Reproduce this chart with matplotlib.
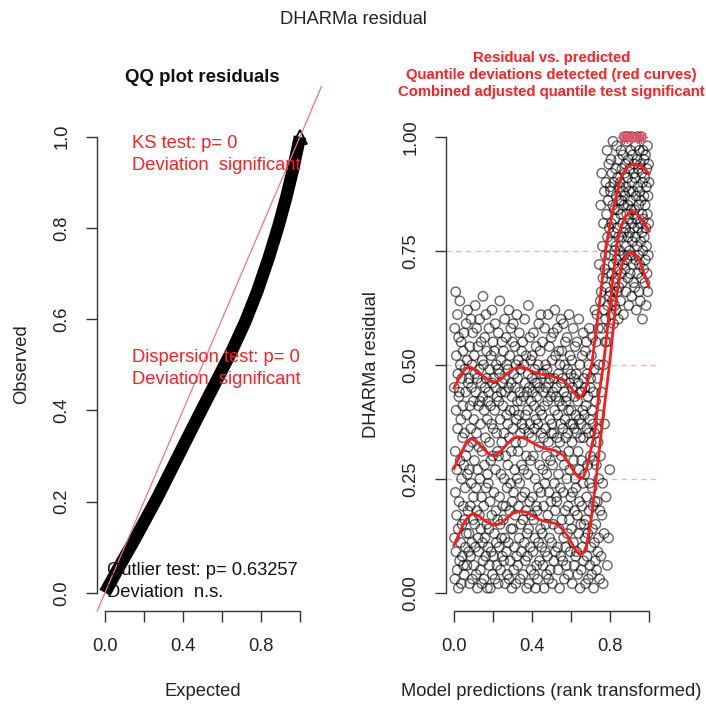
import numpy as np
import matplotlib
matplotlib.use("Agg")
import matplotlib.pyplot as plt

plt.rcParams['font.family'] = ['Liberation Sans', 'DejaVu Sans']

# scaled residuals, ordered by rank of model prediction
resid = [
    0.45, 0.12, 0.58, 0.03, 0.31, 0.22, 0.66, 0.09, 0.40, 0.52, 0.17, 0.27, 0.05, 0.61, 0.36, 0.48, 0.14, 0.01, 0.56, 0.43,
    0.20, 0.44, 0.07, 0.64, 0.29, 0.50, 0.11, 0.38, 0.55, 0.02, 0.25, 0.47, 0.15, 0.08, 0.34, 0.41, 0.53, 0.19, 0.06, 0.28,
    0.57, 0.04, 0.35, 0.16, 0.49, 0.23, 0.10, 0.44, 0.30, 0.59, 0.13, 0.39, 0.06, 0.51, 0.26, 0.62, 0.18, 0.46, 0.32, 0.09,
    0.13, 0.47, 0.27, 0.02, 0.54, 0.41, 0.19, 0.08, 0.36, 0.60, 0.24, 0.45, 0.11, 0.50, 0.03, 0.33, 0.57, 0.16, 0.42, 0.21,
    0.38, 0.06, 0.52, 0.29, 0.15, 0.48, 0.63, 0.10, 0.44, 0.23, 0.04, 0.35, 0.58, 0.18, 0.47, 0.01, 0.27, 0.54, 0.12, 0.41,
    0.09, 0.32, 0.49, 0.17, 0.60, 0.25, 0.42, 0.05, 0.37, 0.14, 0.55, 0.46, 0.21, 0.02, 0.31, 0.51, 0.11, 0.43, 0.65, 0.07,
    0.50, 0.19, 0.03, 0.40, 0.28, 0.56, 0.12, 0.45, 0.34, 0.08, 0.61, 0.23, 0.47, 0.15, 0.53, 0.38, 0.01, 0.26, 0.42, 0.10,
    0.24, 0.44, 0.14, 0.58, 0.06, 0.33, 0.49, 0.20, 0.01, 0.41, 0.29, 0.52, 0.09, 0.37, 0.17, 0.62, 0.46, 0.04, 0.30, 0.55,
    0.36, 0.08, 0.47, 0.22, 0.53, 0.13, 0.40, 0.03, 0.59, 0.27, 0.45, 0.18, 0.50, 0.11, 0.35, 0.06, 0.43, 0.31, 0.16, 0.49,
    0.02, 0.57, 0.30, 0.42, 0.10, 0.48, 0.21, 0.64, 0.15, 0.38, 0.05, 0.51, 0.26, 0.44, 0.12, 0.33, 0.55, 0.08, 0.46, 0.19,
    0.41, 0.16, 0.53, 0.07, 0.35, 0.25, 0.47, 0.60, 0.12, 0.02, 0.44, 0.30, 0.19, 0.56, 0.09, 0.39, 0.50, 0.23, 0.04, 0.37,
    0.28, 0.49, 0.11, 0.45, 0.62, 0.03, 0.34, 0.18, 0.52, 0.40, 0.07, 0.24, 0.58, 0.14, 0.46, 0.31, 0.01, 0.43, 0.20, 0.55,
    0.14, 0.36, 0.59, 0.22, 0.05, 0.48, 0.40, 0.10, 0.27, 0.54, 0.17, 0.45, 0.33, 0.02, 0.50, 0.38, 0.08, 0.61, 0.25, 0.42,
    0.47, 0.06, 0.31, 0.51, 0.19, 0.39, 0.12, 0.57, 0.44, 0.24, 0.03, 0.35, 0.49, 0.15, 0.42, 0.09, 0.28, 0.53, 0.37, 0.21,
    0.33, 0.55, 0.16, 0.04, 0.43, 0.27, 0.50, 0.36, 0.11, 0.60, 0.22, 0.46, 0.07, 0.39, 0.18, 0.52, 0.30, 0.01, 0.44, 0.13,
    0.08, 0.40, 0.26, 0.48, 0.63, 0.14, 0.35, 0.02, 0.45, 0.20, 0.56, 0.37, 0.10, 0.29, 0.51, 0.05, 0.42, 0.17, 0.34, 0.47,
    0.52, 0.21, 0.44, 0.09, 0.30, 0.57, 0.16, 0.41, 0.04, 0.36, 0.49, 0.12, 0.25, 0.46, 0.01, 0.38, 0.54, 0.19, 0.06, 0.43,
    0.18, 0.46, 0.03, 0.37, 0.50, 0.23, 0.11, 0.59, 0.32, 0.45, 0.07, 0.28, 0.53, 0.40, 0.14, 0.61, 0.22, 0.35, 0.48, 0.10,
    0.39, 0.13, 0.55, 0.27, 0.06, 0.44, 0.34, 0.19, 0.48, 0.01, 0.41, 0.58, 0.24, 0.09, 0.36, 0.50, 0.15, 0.45, 0.30, 0.04,
    0.26, 0.49, 0.08, 0.42, 0.17, 0.61, 0.33, 0.03, 0.46, 0.22, 0.54, 0.12, 0.38, 0.47, 0.05, 0.29, 0.43, 0.20, 0.56, 0.35,
    0.11, 0.37, 0.51, 0.02, 0.28, 0.44, 0.15, 0.57, 0.35, 0.07, 0.47, 0.24, 0.40, 0.62, 0.18, 0.09, 0.52, 0.31, 0.43, 0.21,
    0.45, 0.20, 0.34, 0.58, 0.10, 0.39, 0.05, 0.48, 0.26, 0.53, 0.14, 0.42, 0.01, 0.33, 0.50, 0.23, 0.37, 0.08, 0.60, 0.46,
    0.30, 0.53, 0.16, 0.41, 0.47, 0.07, 0.36, 0.22, 0.59, 0.12, 0.44, 0.28, 0.03, 0.50, 0.38, 0.18, 0.55, 0.10, 0.34, 0.42,
    0.06, 0.43, 0.25, 0.56, 0.13, 0.35, 0.49, 0.19, 0.04, 0.40, 0.31, 0.61, 0.16, 0.46, 0.27, 0.52, 0.09, 0.37, 0.21, 0.48,
    0.40, 0.14, 0.51, 0.33, 0.02, 0.45, 0.22, 0.37, 0.58, 0.11, 0.29, 0.47, 0.06, 0.36, 0.18, 0.43, 0.54, 0.25, 0.08, 0.39,
    0.23, 0.48, 0.09, 0.35, 0.55, 0.17, 0.42, 0.04, 0.31, 0.46, 0.13, 0.60, 0.27, 0.38, 0.20, 0.50, 0.01, 0.44, 0.34, 0.15,
    0.37, 0.05, 0.29, 0.44, 0.19, 0.52, 0.10, 0.40, 0.24, 0.57, 0.34, 0.07, 0.47, 0.15, 0.39, 0.26, 0.45, 0.12, 0.53, 0.02,
    0.16, 0.41, 0.55, 0.21, 0.36, 0.08, 0.48, 0.28, 0.13, 0.43, 0.03, 0.35, 0.50, 0.18, 0.58, 0.24, 0.38, 0.06, 0.45, 0.30,
    0.47, 0.10, 0.33, 0.52, 0.04, 0.40, 0.23, 0.14, 0.56, 0.37, 0.19, 0.44, 0.01, 0.29, 0.49, 0.11, 0.35, 0.62, 0.20, 0.07,
    0.42, 0.15, 0.55, 0.28, 0.05, 0.61, 0.36, 0.20, 0.47, 0.09, 0.33, 0.58, 0.12, 0.25, 0.50, 0.72, 0.03, 0.39, 0.18, 0.64,
    0.30, 0.85, 0.08, 0.66, 0.44, 0.92, 0.17, 0.58, 0.76, 0.24, 0.69, 0.02, 0.81, 0.50, 0.62, 0.13, 0.88, 0.37, 0.71, 0.55,
    0.74, 0.60, 0.90, 0.21, 0.67, 0.83, 0.55, 0.97, 0.06, 0.78, 0.63, 0.86, 0.70, 0.12, 0.94, 0.58, 0.80, 0.65, 0.27, 0.89,
    0.66, 0.88, 0.74, 0.95, 0.61, 0.81, 0.70, 0.92, 0.77, 0.64, 0.85, 0.99, 0.72, 0.59, 0.90, 0.79, 0.68, 0.84, 0.75, 0.63,
    0.82, 0.69, 0.93, 0.76, 0.62, 0.87, 0.73, 0.98, 0.80, 0.66, 0.91, 0.71, 0.84, 0.60, 0.78, 0.95, 0.67, 0.86, 0.74, 0.89,
    0.75, 0.90, 0.64, 0.83, 0.97, 0.70, 0.86, 0.78, 0.93, 0.68, 0.81, 0.72, 0.96, 0.88, 0.61, 0.79, 0.85, 0.74, 1.00, 0.92,
    0.87, 0.71, 0.94, 0.80, 0.66, 0.89, 0.76, 0.99, 0.83, 0.73, 1.00, 0.91, 0.69, 0.85, 0.78, 0.95, 0.63, 0.82, 0.88, 0.75,
    0.79, 0.93, 0.70, 0.86, 0.97, 0.74, 0.84, 1.00, 0.65, 0.90, 0.81, 0.77, 0.96, 0.72, 0.88, 0.83, 0.68, 0.92, 0.80, 0.94,
    0.84, 0.67, 0.91, 0.78, 0.98, 0.73, 0.87, 0.62, 0.82, 0.95, 0.76, 1.00, 0.70, 0.89, 0.80, 0.93, 0.74, 0.85, 0.66, 0.97,
    0.72, 0.88, 0.81, 0.64, 0.94, 0.77, 1.00, 0.86, 0.69, 0.92, 0.79, 0.83, 0.60, 0.90, 0.75, 0.97, 0.82, 0.71, 0.87, 0.95,
    0.78, 0.91, 0.68, 0.85, 0.73, 0.96, 0.80, 0.63, 0.89, 0.76, 0.93, 0.70, 0.83, 0.98, 0.66, 0.87, 0.74, 0.94, 0.81, 0.90,
]

# QQ plot band (expected vs observed quantiles)
qq_expected = [0.0, 0.07, 0.15, 0.27, 0.37, 0.47, 0.56, 0.65, 0.72, 0.78, 0.84, 0.89, 0.93, 0.965, 1.0]
qq_observed = [0.0, 0.055, 0.115, 0.21, 0.295, 0.38, 0.455, 0.53, 0.595, 0.66, 0.735, 0.805, 0.868, 0.93, 1.0]

# quantile regression curves
q25_x = [0.00, 0.025, 0.05, 0.075, 0.10, 0.13, 0.16, 0.21, 0.24, 0.27, 0.30, 0.34, 0.37, 0.40, 0.43, 0.46, 0.49, 0.52, 0.55, 0.58, 0.61, 0.63, 0.646, 0.665, 0.68, 0.70, 0.725, 0.76, 0.797, 0.834, 0.86, 0.885, 0.911, 0.935, 0.954, 0.975, 1.00]
q25_y = [0.104, 0.128, 0.152, 0.168, 0.174, 0.168, 0.157, 0.148, 0.152, 0.163, 0.174, 0.179, 0.177, 0.170, 0.162, 0.157, 0.155, 0.152, 0.142, 0.126, 0.104, 0.090, 0.084, 0.088, 0.104, 0.150, 0.236, 0.370, 0.499, 0.652, 0.718, 0.740, 0.747, 0.740, 0.725, 0.700, 0.670]
q50_x = [0.00, 0.02, 0.045, 0.07, 0.091, 0.12, 0.15, 0.18, 0.21, 0.24, 0.27, 0.30, 0.33, 0.36, 0.39, 0.441, 0.48, 0.518, 0.56, 0.595, 0.62, 0.646, 0.665, 0.68, 0.705, 0.723, 0.74, 0.766, 0.80, 0.834, 0.855, 0.877, 0.911, 0.935, 0.96, 0.98, 1.00]
q50_y = [0.272, 0.292, 0.314, 0.332, 0.338, 0.330, 0.316, 0.304, 0.300, 0.310, 0.325, 0.338, 0.342, 0.339, 0.332, 0.320, 0.315, 0.312, 0.302, 0.280, 0.262, 0.250, 0.255, 0.272, 0.320, 0.353, 0.426, 0.499, 0.630, 0.762, 0.800, 0.824, 0.837, 0.832, 0.820, 0.808, 0.793]
q75_x = [0.00, 0.02, 0.04, 0.06, 0.082, 0.11, 0.15, 0.18, 0.21, 0.24, 0.27, 0.30, 0.338, 0.37, 0.40, 0.44, 0.475, 0.52, 0.56, 0.60, 0.62, 0.638, 0.66, 0.68, 0.706, 0.745, 0.78, 0.817, 0.84, 0.86, 0.885, 0.911, 0.935, 0.96, 0.98, 1.00]
q75_y = [0.449, 0.466, 0.481, 0.492, 0.495, 0.489, 0.475, 0.466, 0.462, 0.468, 0.480, 0.490, 0.495, 0.492, 0.485, 0.480, 0.477, 0.473, 0.466, 0.450, 0.436, 0.426, 0.435, 0.455, 0.499, 0.630, 0.762, 0.843, 0.885, 0.916, 0.932, 0.939, 0.939, 0.935, 0.928, 0.919]

ks_text = ["KS test: p= 0", "Deviation  significant"]
disp_text = ["Dispersion test: p= 0", "Deviation  significant"]
outl_text = ["Outlier test: p= 0.63257", "Deviation  n.s."]
right_title = ["Residual vs. predicted",
               "Quantile deviations detected (red curves)",
               "Combined adjusted quantile test significant"]

W = H = 706
fig = plt.figure(figsize=(7.06, 7.06), dpi=100)

def fx(px):
    return px / W

def fy(py):
    return 1 - py / H

FS = 13.2
top, bot = 118.5, 611.0
axL = fig.add_axes([fx(97.2), fy(bot), (307.8 - 97.2) / W, (bot - top) / H])
axR = fig.add_axes([fx(446.2), fy(bot), (656.8 - 446.2) / W, (bot - top) / H])

res = np.asarray(resid, dtype=float)
n = len(res)

# ---------------- QQ plot ----------------
axL.plot(qq_expected, qq_observed, color='black', lw=9.0,
         solid_capstyle='butt', solid_joinstyle='round', zorder=2)
axL.plot([qq_expected[-1]], [qq_observed[-1]],
         linestyle='none', marker='^', mfc='none', mec='black', ms=10, mew=1.3,
         zorder=2)
axL.plot([-0.04, 1.11], [-0.04, 1.11], color='#ee7780', lw=0.9, clip_on=False,
         zorder=3)

# ---------------- residual vs predicted ----------------
xr = (np.arange(n) + 1) / n
for v in [0.25, 0.5, 0.75]:
    axR.axhline(v, color='#f7b4b4', lw=1.0, ls=(0, (4, 3)), zorder=1)
axR.scatter(xr, res, s=46, facecolors='none', edgecolors=(0, 0, 0, 0.6),
            linewidths=1.0, zorder=2)
out = (res >= 1.0) | (res <= 0.0)
axR.scatter(xr[out], res[out], s=70, marker=(8, 2, 0), color='#DF536B',
            linewidths=1.0, zorder=3)
for qx, qy in [(q25_x, q25_y), (q50_x, q50_y), (q75_x, q75_y)]:
    axR.plot(qx, qy, color='#ff1a1a', lw=2.0, zorder=4, solid_joinstyle='round')

# ---------------- axes styling ----------------
for ax in (axL, axR):
    ax.set_xlim(-0.04, 1.04)
    ax.set_ylim(-0.04, 1.04)
    ax.patch.set_visible(False)
    for s in ['top', 'right']:
        ax.spines[s].set_visible(False)
    for s in ['left', 'bottom']:
        ax.spines[s].set_bounds(0, 1)
        ax.spines[s].set_linewidth(1.0)
        ax.spines[s].set_color('#333333')
    ax.set_xticks([0, 0.2, 0.4, 0.6, 0.8, 1.0])
    ax.set_xticklabels(['0.0', '', '0.4', '', '0.8', ''])
    ax.tick_params(direction='out', length=7.9, width=1.0, color='#333333',
                   labelsize=FS, pad=11.5, labelcolor='#222222')

axL.set_yticks([0, 0.2, 0.4, 0.6, 0.8, 1.0])
axL.set_yticklabels(['0.0', '0.2', '0.4', '0.6', '0.8', '1.0'])
axR.set_yticks([0, 0.25, 0.5, 0.75, 1.0])
axR.set_yticklabels(['0.00', '0.25', '0.50', '0.75', '1.00'])
for ax in (axL, axR):
    for lbl in ax.get_yticklabels():
        lbl.set_rotation(90)
        lbl.set_va('center')

# ---------------- texts ----------------
fig.text(fx(353), fy(24), "DHARMa residual", fontsize=FS, ha='center',
         va='baseline', color='#222222')
fig.text(fx(202.5), fy(82), "QQ plot residuals", fontsize=13.4,
         fontweight='bold', ha='center', va='baseline', color='#111111')
for i, t in enumerate(right_title):
    fig.text(fx(551.5), fy(62 + 17 * i), t, fontsize=10.7, fontweight='bold',
             ha='center', va='baseline', color='#ff2020')

fig.text(fx(131.5), fy(148), ks_text[0], fontsize=FS, color='#ff2020', va='baseline')
fig.text(fx(131.5), fy(170), ks_text[1], fontsize=FS, color='#ff2020', va='baseline')
fig.text(fx(131.5), fy(362), disp_text[0], fontsize=FS, color='#ff2020', va='baseline')
fig.text(fx(131.5), fy(384), disp_text[1], fontsize=FS, color='#ff2020', va='baseline')
fig.text(fx(107), fy(575), outl_text[0], fontsize=FS, color='#111111', va='baseline')
fig.text(fx(107), fy(597), outl_text[1], fontsize=FS, color='#111111', va='baseline')

fig.text(fx(202.5), fy(696), "Expected", fontsize=FS, ha='center', va='baseline',
         color='#222222')
fig.text(fx(551.5), fy(696), "Model predictions (rank transformed)", fontsize=FS,
         ha='center', va='baseline', color='#222222')
fig.text(fx(22), fy(364.5), "Observed", fontsize=FS, rotation=90, ha='center',
         va='center', color='#222222')
fig.text(fx(372), fy(364.5), "DHARMa residual", fontsize=FS, rotation=90,
         ha='center', va='center', color='#222222')

fig.savefig("out.png", dpi=100)
